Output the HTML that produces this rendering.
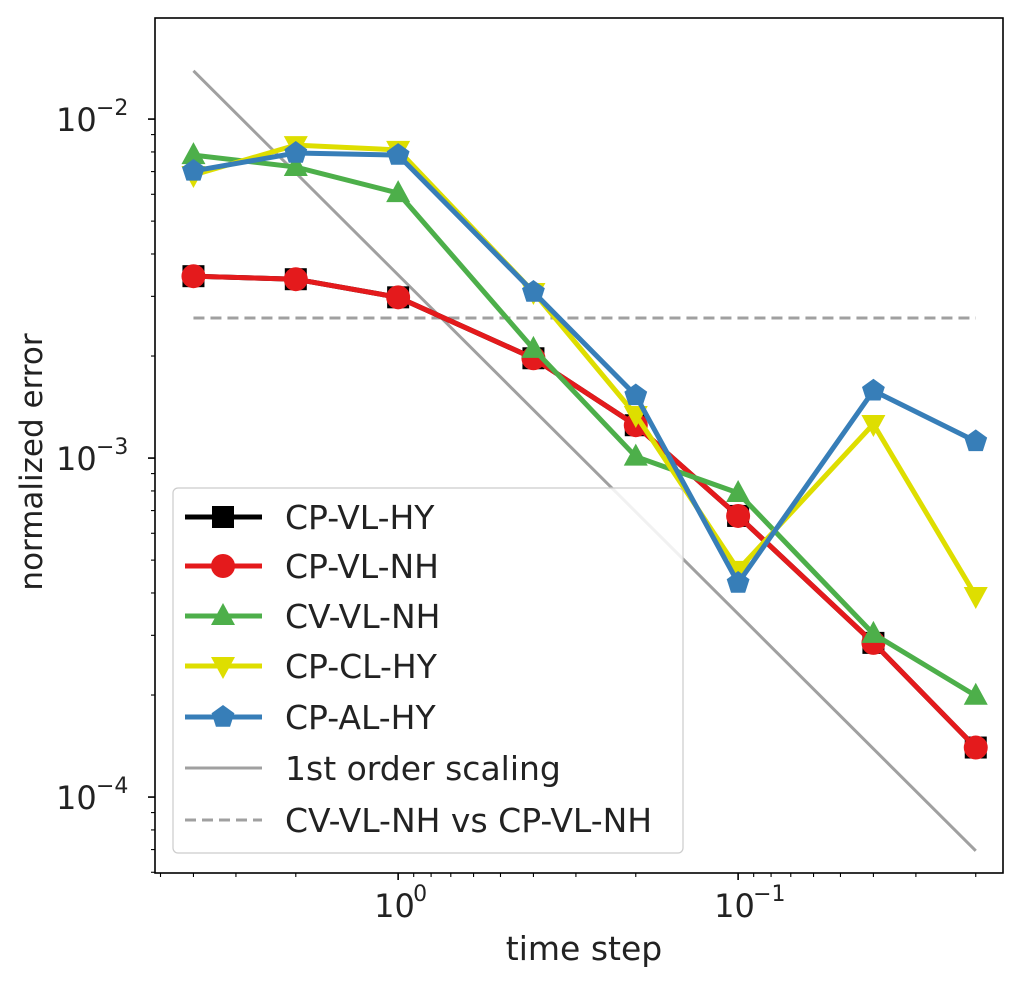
<!DOCTYPE html>
<html><head><meta charset="utf-8"><style>
body{margin:0;background:#fff}
svg text{font-family:"DejaVu Sans","Liberation Sans",sans-serif;fill:#222}
</style></head><body>
<svg id="c" width="1033" height="985" xmlns="http://www.w3.org/2000/svg"></svg>
<script>
const timeSteps=[4,2,1,0.4,0.2,0.1,0.04,0.02];
const cpVlHy=[0.00344,0.00337,0.00298,0.00197,0.00125,0.000675,0.000285,0.000140];
const cpVlNh=[0.00344,0.00337,0.00298,0.00197,0.00125,0.000675,0.000285,0.000140];
const cvVlNh=[0.00783,0.00722,0.00605,0.0021,0.00101,0.000789,0.000303,0.000199];
const cpClHy=[0.00684,0.00838,0.00811,0.00309,0.00134,0.000468,0.00126,0.000392];
const cpAlHy=[0.00703,0.00794,0.00783,0.00309,0.00153,0.000428,0.00158,0.00112];
const scalingCoef=0.00347;
const diffLevel=0.00259;
const xTickVals=[1,0.1];
const xTickLabels=["0","\u22121"];
const yTickVals=[0.01,0.001,0.0001];
const yTickLabels=["\u22122","\u22123","\u22124"];

const L=155,R=1003,T=18,B=873;
const xmin=Math.log10(5.19),xmax=Math.log10(0.01663);
const ymax=Math.log10(0.01987),ymin=-4.224;
const X=v=>L+(Math.log10(v)-xmin)/(xmax-xmin)*(R-L);
const Y=v=>B-(Math.log10(v)-ymin)/(ymax-ymin)*(B-T);
const svg=document.getElementById('c');
const NS="http://www.w3.org/2000/svg";
function mk(t,a,p){const e=document.createElementNS(NS,t);for(const k in a)e.setAttribute(k,a[k]);(p||svg).appendChild(e);return e;}

const axes=mk('g',{});


for(let d=-2;d<=1;d++)for(let m=1;m<10;m++){const v=m*Math.pow(10,d);const x=X(v);if(x<L||x>R)continue;
 const len=m===1?7:4;mk('line',{x1:x,x2:x,y1:B,y2:B+len,stroke:'#000','stroke-width':m===1?1.6:1.1},axes);}
for(let d=-5;d<=-1;d++)for(let m=1;m<10;m++){const v=m*Math.pow(10,d);const y=Y(v);if(y<T||y>B)continue;
 const len=m===1?7:4;mk('line',{x1:L,x2:L-len,y1:y,y2:y,stroke:'#000','stroke-width':m===1?1.6:1.1},axes);}
xTickVals.forEach((v,i)=>{const g=mk('text',{x:X(v)-24,y:B+44,'font-size':32},axes);g.textContent='10';
 const s=mk('text',{x:X(v)+15,y:B+28,'font-size':22},axes);s.textContent=xTickLabels[i];
 });
yTickVals.forEach((v,i)=>{const g=mk('text',{x:56,y:Y(v)+12,'font-size':32},axes);g.textContent='10';
 const s=mk('text',{x:96,y:Y(v)-4,'font-size':22},axes);s.textContent=yTickLabels[i];
 });
const xl=mk('text',{x:584,y:960,'font-size':33,'text-anchor':'middle'});xl.textContent='time step';

const yl=mk('text',{x:42,y:462,'font-size':31,'text-anchor':'middle',transform:`rotate(-90 42 462)`});yl.textContent='normalized error';


const ref=mk('line',{x1:X(timeSteps[0]),y1:Y(scalingCoef*timeSteps[0]),x2:X(timeSteps[7]),y2:Y(scalingCoef*timeSteps[7]),stroke:'#a0a0a0','stroke-width':3});

const dl=mk('line',{x1:X(timeSteps[0]),y1:Y(diffLevel),x2:X(timeSteps[7]),y2:Y(diffLevel),stroke:'#a0a0a0','stroke-width':3,'stroke-dasharray':'11,6'});


function marker(kind,x,y,color,p){
 const r=11;
 if(kind==='s')return mk('rect',{x:x-r,y:y-r,width:2*r,height:2*r,fill:color},p);
 if(kind==='o')return mk('circle',{cx:x,cy:y,r:r+1,fill:color},p);
 if(kind==='^')return mk('polygon',{points:`${x},${y-r-2} ${x-r-1},${y+r-2} ${x+r+1},${y+r-2}`,fill:color},p);
 if(kind==='v')return mk('polygon',{points:`${x},${y+r+2} ${x-r-1},${y-r+2} ${x+r+1},${y-r+2}`,fill:color},p);
 if(kind==='p'){let pts=[];for(let k=0;k<5;k++){const a=-Math.PI/2+k*2*Math.PI/5;pts.push((x+12*Math.cos(a))+','+(y+12*Math.sin(a)));}
  return mk('polygon',{points:pts.join(' '),fill:color},p);}
}
const series=[
 {name:'cp-vl-hy',vals:cpVlHy,c:'#000000',m:'s'},
 {name:'cp-vl-nh',vals:cpVlNh,c:'#e41a1c',m:'o'},
 {name:'cv-vl-nh',vals:cvVlNh,c:'#4daf4a',m:'^'},
 {name:'cp-cl-hy',vals:cpClHy,c:'#dede00',m:'v'},
 {name:'cp-al-hy',vals:cpAlHy,c:'#377eb8',m:'p'}];
series.forEach(s=>{
 const g=mk('g',{});
 
 
 mk('polyline',{points:s.vals.map((v,i)=>X(timeSteps[i])+','+Y(v)).join(' '),fill:'none',stroke:s.c,'stroke-width':5},g);
 s.vals.forEach((v,i)=>{const m=marker(s.m,X(timeSteps[i]),Y(v),s.c,g);
  
  });
});

mk('rect',{x:L,y:T,width:R-L,height:B-T,fill:'none',stroke:'#000','stroke-width':1.6});

const lg=mk('g',{});


mk('rect',{x:173,y:488,width:510,height:365,rx:5,fill:'#fff','fill-opacity':0.85,stroke:'#ccc','stroke-width':1.2},lg);
const labels=['CP-VL-HY','CP-VL-NH','CV-VL-NH','CP-CL-HY','CP-AL-HY','1st order scaling','CV-VL-NH vs CP-VL-NH'];
const ly=[517,566,616,666,717,768,820];
labels.forEach((t,i)=>{
 const e=mk('g',{},lg);
 
 
 if(i<5){const s=series[i];mk('line',{x1:185,x2:262,y1:ly[i],y2:ly[i],stroke:s.c,'stroke-width':5},e);marker(s.m,223,ly[i],s.c,e);}
 else mk('line',{x1:185,x2:262,y1:ly[i],y2:ly[i],stroke:'#a0a0a0','stroke-width':3,'stroke-dasharray':i===6?'11,6':'none'},e);
 const tx=mk('text',{x:285,y:ly[i]+12,'font-size':33},e);tx.textContent=t;
});
</script>
</body></html>
